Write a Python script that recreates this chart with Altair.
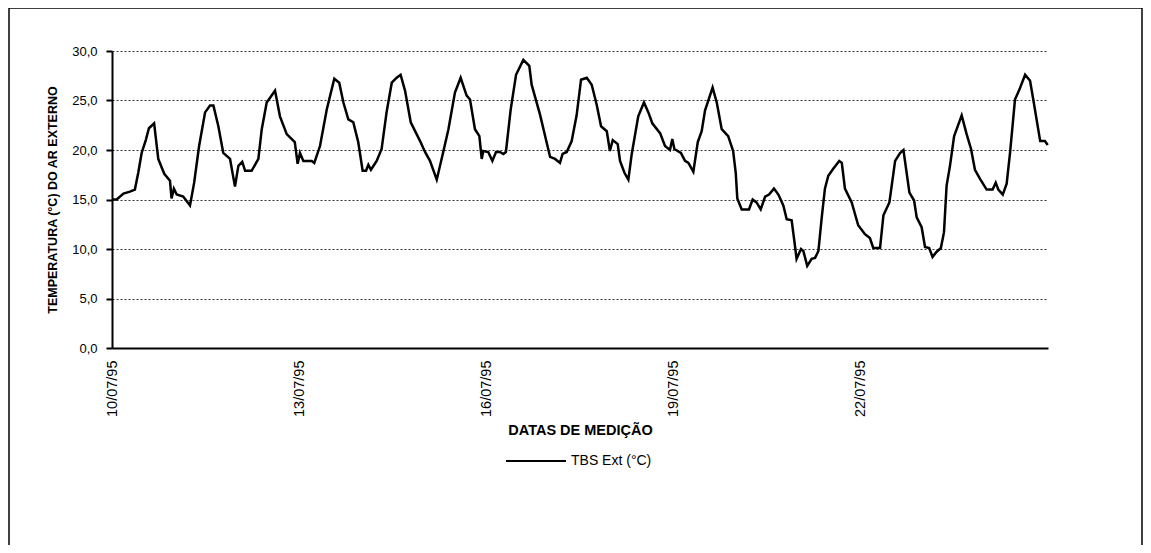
import altair as alt
import pandas as pd

# Hours since 10/07/95 00:00 and outdoor dry-bulb temperature (°C)
hours = [0, 1.8, 4.4, 6.9, 8.8, 10.1, 11.4, 13.0, 14.2, 16.2, 17.8, 20.1, 22.3, 22.9, 23.8, 24.9,
         27.4, 30.0, 31.6, 33.5, 35.8, 37.7, 39.0, 40.9, 42.8, 45.4, 47.3, 48.6, 50.1, 51.2, 53.7,
         56.3, 57.6, 59.5, 61.4, 62.7, 64.6, 67.2, 70.3, 71.4, 72.3, 73.6, 76.8, 77.8, 80.0, 82.6,
         85.5, 87.4, 89.0, 90.9, 92.8, 94.7, 96.4, 97.7, 98.6, 99.6, 101.8, 103.7, 105.6, 107.6,
         109.5, 111.0, 112.7, 114.9, 118.5, 120.4, 122.3, 124.9, 127.4, 129.4, 131.9, 134.1,
         136.4, 137.7, 139.6, 141.3, 142.2, 142.8, 144.7, 146.3, 147.7, 149.2, 150.5, 151.5,
         153.3, 155.4, 158.2, 160.5, 161.4, 164.6, 168.5, 170.4, 172.3, 173.3, 174.9, 176.8,
         178.7, 180.4, 182.6, 184.5, 186.4, 188.1, 190.3, 191.5, 192.6, 194.5, 195.4, 197.1,
         198.6, 199.9, 202.4, 204.6, 206.3, 207.8, 210.8, 212.7, 214.6, 215.5, 216.3, 218.8,
         220.4, 221.7, 223.6, 225.3, 226.8, 228.1, 231.0, 232.6, 234.5, 237.0, 238.9, 239.9,
         240.5, 242.2, 245.0, 246.4, 247.9, 249.5, 251.2, 252.7, 254.6, 256.3, 258.2, 259.5,
         261.4, 262.4, 263.3, 265.0, 265.9, 267.4, 269.1, 270.4, 271.7, 272.9, 274.2, 275.5,
         277.4, 279.7, 280.7, 281.9, 284.5, 287.0, 289.6, 291.5, 292.8, 295.4, 296.7, 299.0,
         301.2, 303.1, 304.4, 306.7, 308.5, 309.5, 311.4, 312.7, 314.3, 315.6, 317.1, 318.8,
         320.0, 321.0, 322.3, 323.9, 326.8, 328.7, 330.4, 331.9, 333.8, 336.4, 338.7, 339.9,
         340.9, 342.6, 344.1, 345.4, 347.3, 349.0, 351.2, 353.1, 354.4, 357.0, 358.8, 359.9]

temps = [15.0, 15.0, 15.6, 15.8, 16.0, 17.7, 19.7, 21.0, 22.2, 22.7, 19.1, 17.6, 16.9, 15.1, 16.1, 15.5,
         15.3, 14.4, 16.7, 20.4, 23.8, 24.5, 24.5, 22.4, 19.7, 19.1, 16.3, 18.4, 18.8, 17.9, 17.9,
         19.1, 22.1, 24.8, 25.5, 26.0, 23.4, 21.6, 20.8, 18.6, 19.7, 18.9, 18.9, 18.7, 20.4, 24.1,
         27.2, 26.8, 24.8, 23.1, 22.8, 20.8, 17.9, 17.9, 18.5, 18.0, 18.9, 20.1, 23.8, 26.8,
         27.3, 27.6, 26.0, 22.8, 20.9, 19.8, 18.9, 17.0, 19.8, 22.1, 25.8, 27.3,
         25.5, 25.1, 22.1, 21.4, 19.1, 19.9, 19.8, 18.9, 19.8, 19.8, 19.6, 19.8,
         24.0, 27.6, 29.1, 28.5, 26.6, 23.6, 19.3, 19.1, 18.7, 19.6, 19.8, 20.9,
         23.5, 27.1, 27.3, 26.6, 24.6, 22.4, 21.9, 19.9, 21.0, 20.6, 18.9, 17.7,
         17.0, 19.6, 23.4, 24.8, 23.8, 22.7, 21.7, 20.4, 20.0, 21.1, 20.1, 19.7,
         18.9, 18.7, 17.8, 20.8, 21.9, 24.0, 26.3, 24.8, 22.1, 21.4, 19.9, 17.7,
         15.1, 14.0, 14.0, 15.0, 14.7, 14.0, 15.3, 15.5, 16.1, 15.5, 14.4, 13.0,
         12.9, 10.9, 9.0, 10.0, 9.8, 8.3, 9.0, 9.1, 9.8, 13.0, 16.1, 17.4,
         18.1, 18.9, 18.7, 16.1, 14.7, 12.4, 11.5, 11.1, 10.1, 10.1, 13.4, 14.7,
         18.9, 19.7, 20.0, 15.7, 14.9, 13.2, 12.2, 10.2, 10.1, 9.2, 9.7, 10.1,
         11.7, 16.4, 18.4, 21.4, 23.5, 21.6, 20.1, 18.0, 17.1, 16.0, 16.0, 16.7,
         16.0, 15.5, 16.6, 19.7, 25.1, 26.1, 27.6, 27.0, 25.0, 20.9, 20.9, 20.5]

tick_days = [10, 13, 16, 19, 22]
y_ticks = [0, 5, 10, 15, 20, 25, 30]
series_name = "TBS Ext (°C)"

start = pd.Timestamp("1995-07-10 00:00:00")
df = pd.DataFrame({
    "data": [(start + pd.Timedelta(hours=h)).strftime("%Y-%m-%dT%H:%M:%S") for h in hours],
    "temp": temps,
    "serie": series_name,
})

FONT = "Liberation Sans"

line = alt.Chart(df).mark_line(strokeWidth=2.5, interpolate="linear").encode(
    x=alt.X(
        "data:T",
        scale=alt.Scale(domain=[alt.DateTime(year=1995, month=7, date=10),
                                alt.DateTime(year=1995, month=7, date=25)]),
        axis=alt.Axis(
            values=[alt.DateTime(year=1995, month=7, date=d) for d in tick_days],
            format="%d/%m/%y", labelAngle=-90, ticks=False, tickSize=0, labelPadding=12,
            grid=False, domainColor="black", domainWidth=2,
            labelFont=FONT, labelFontSize=14.5, labelColor="black",
            title="DATAS DE MEDIÇÃO", titleFont=FONT, titleFontSize=14.5, titleFontWeight="bold",
            titleColor="black", titlePadding=7,
        ),
    ),
    y=alt.Y(
        "temp:Q",
        scale=alt.Scale(domain=[0, 30], nice=False, zero=True),
        axis=alt.Axis(
            values=y_ticks, labelExpr="replace(format(datum.value, '.1f'), '.', ',')",
            tickSize=6, tickWidth=2, tickColor="black", labelPadding=9,
            domainColor="black", domainWidth=2,
            grid=True, gridColor="#333333", gridDash=[2, 2], gridWidth=1,
            labelFont=FONT, labelFontSize=13, labelColor="black",
            title="TEMPERATURA (°C) DO AR EXTERNO", titleFont=FONT, titleFontSize=12.5,
            titleFontWeight="bold", titleColor="black", titlePadding=12,
        ),
    ),
    color=alt.Color(
        "serie:N",
        scale=alt.Scale(range=["black"]),
        legend=alt.Legend(
            title=None, orient="none", legendX=393, legendY=379,
            symbolType="stroke", symbolSize=3600, symbolStrokeWidth=2,
            labelFont=FONT, labelFontSize=14, labelColor="black", labelOffset=4,
        ),
    ),
)

frame_pts = pd.DataFrame({"k": [1]})
frame_top = alt.Chart(frame_pts).mark_rule(stroke="black", strokeWidth=1.5).encode(
    x=alt.value(-103), x2=alt.value(1030), y=alt.value(-43), y2=alt.value(-43))
frame_left = alt.Chart(frame_pts).mark_rule(stroke="black", strokeWidth=1.5).encode(
    x=alt.value(-103), x2=alt.value(-103), y=alt.value(-43), y2=alt.value(520))
frame_right = alt.Chart(frame_pts).mark_rule(stroke="black", strokeWidth=1.5).encode(
    x=alt.value(1030), x2=alt.value(1030), y=alt.value(-43), y2=alt.value(520))

chart = alt.layer(frame_top, frame_left, frame_right, line).properties(
    width=936, height=297,
    autosize=alt.AutoSizeParams(type="none"),
    padding={"left": 104, "top": 43, "right": 95, "bottom": 197},
).configure_view(stroke=None)

chart.save("out.html", embed_options={"renderer": "svg", "actions": False})
